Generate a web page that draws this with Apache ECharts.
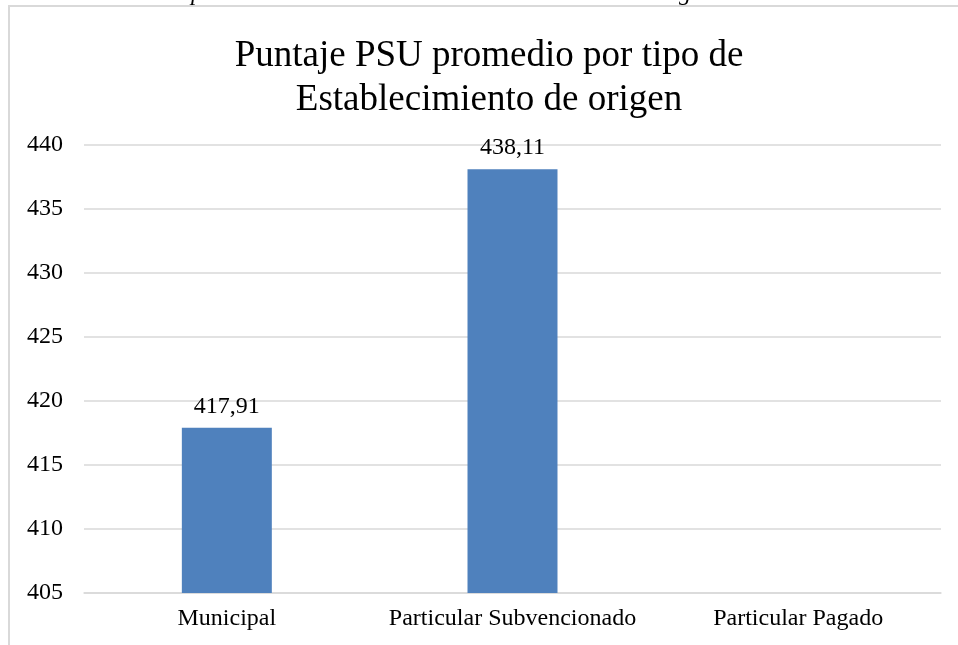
<!DOCTYPE html>
<html>
<head>
<meta charset="utf-8">
<script src="https://cdn.jsdelivr.net/npm/echarts@6/dist/echarts.min.js"></script>
<style>
  html, body { margin: 0; padding: 0; background: #fff; }
  #chart { width: 958px; height: 645px; }
</style>
</head>
<body>
<div id="chart"></div>
<script>
// datos
const categorias = ['Municipal', 'Particular Subvencionado', 'Particular Pagado']
const puntajes = [417.91, 438.11, null]
const ejeMin = 405
const ejeMax = 440
const ejePaso = 5

const serif = 'Liberation Serif'

const chart = echarts.init(document.getElementById('chart'))
chart.setOption({
  animation: false,
  backgroundColor: '#fff',
  title: {
    text: 'Puntaje PSU promedio por tipo de\nEstablecimiento de origen',
    left: 484,
    top: 29,
    textAlign: 'center',
    textStyle: {
      fontFamily: serif,
      fontSize: 37,
      fontWeight: 'normal',
      color: '#000',
      lineHeight: 44
    }
  },
  graphic: [
    {
      // borde del área del gráfico
      type: 'rect',
      shape: { x: 9, y: 6, width: 1000, height: 700 },
      style: { fill: 'none', stroke: '#d9d9d9', lineWidth: 2 },
      silent: true
    },
    {
      // texto cortado arriba
      type: 'text',
      left: 85,
      top: -18,
      style: {
        text: 'Fuente: Reportes Estadísticos Comunales. Biblioteca del Congreso Nacional',
        font: 'italic 24px "Liberation Serif"',
        fill: '#000'
      },
      silent: true
    }
  ],
  grid: {
    left: 84,
    right: 17,
    top: 145,
    bottom: 52,
    containLabel: false
  },
  xAxis: {
    type: 'category',
    data: categorias,
    axisLine: { lineStyle: { color: '#d9d9d9', width: 1.5 } },
    axisTick: { show: false },
    axisLabel: {
      interval: 0,
      fontFamily: serif,
      fontSize: 24,
      color: '#000',
      margin: 14
    }
  },
  yAxis: {
    type: 'value',
    min: ejeMin,
    max: ejeMax,
    interval: ejePaso,
    axisLine: { show: false },
    axisTick: { show: false },
    splitLine: { lineStyle: { color: '#d9d9d9', width: 1.5 } },
    axisLabel: {
      fontFamily: serif,
      fontSize: 24,
      color: '#000',
      margin: 21
    }
  },
  series: [
    {
      type: 'bar',
      data: puntajes,
      barWidth: '31.5%',
      itemStyle: { color: '#4f81bd' },
      label: {
        show: true,
        position: 'top',
        distance: 9,
        fontFamily: serif,
        fontSize: 24,
        color: '#000',
        formatter: p => p.value == null ? '' : p.value.toFixed(2).replace('.', ',')
      }
    }
  ]
})
</script>
</body>
</html>
